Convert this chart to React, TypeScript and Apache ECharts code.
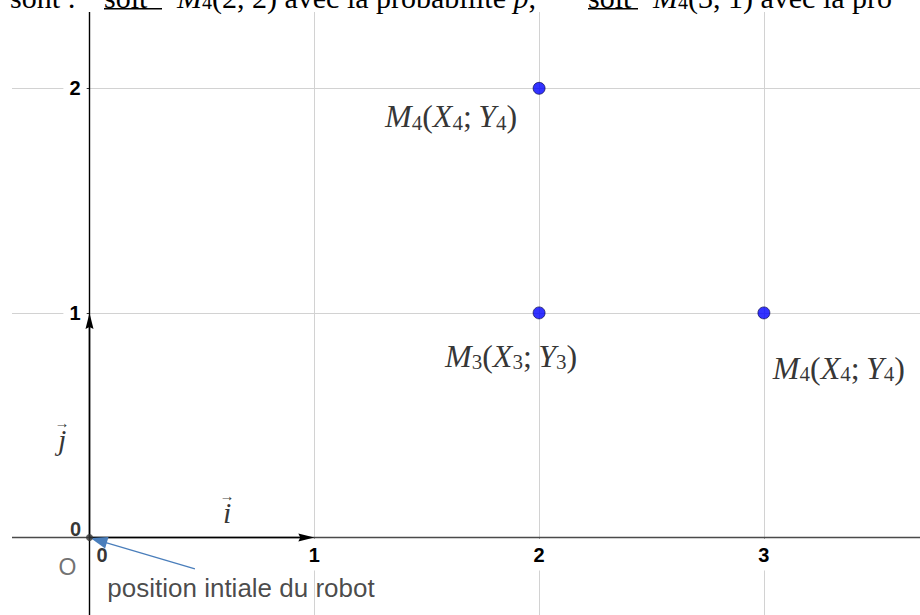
import { useEffect, useRef } from "react";
import * as echarts from "echarts";

// ---- data ----
const X_MIN = -1;
const X_MAX = 4;
const Y_MIN = -1;
const Y_MAX = 3;

const pointCoords: [number, number][] = [
  [2, 2],
  [2, 1],
  [3, 1],
];
const pointIndices = ["4", "3", "4"];

const origin: [number, number] = [0, 0];
const originName = "O";

const vectors: number[][] = [
  [0, 0, 1, 0],
  [0, 0, 0, 1],
];
const vectorNames = ["i", "j"];
const vectorLabelAnchors: [number, number][] = [
  [0.612, 0.128],
  [-0.122, 0.453],
];

const noteArrow: number[][] = [[0.469, -0.14, 0.0045, -0.0022]];
const noteText = "position intiale du robot";
const noteAnchor: [number, number] = [0.674, -0.226];

const headerPieces = [
  "sont :",
  "{u|soit}",
  "{i|M}{s|4}(2, 2) avec la probabilité {i|p},",
  "{u|soit}",
  "{i|M}{s|4}(3, 1) avec la pro",
];

// ---- styles / layout ----
const X0 = 89.5;
const Y0 = 537.5;
const UX = 224.8;
const UY = 224.6;
const GRID_LEFT = X0 + X_MIN * UX;
const GRID_TOP = Y0 - Y_MAX * UY;
const GRID_W = (X_MAX - X_MIN) * UX;
const GRID_H = (Y_MAX - Y_MIN) * UY;

const SANS = "'Liberation Sans', Arial, sans-serif";
const SERIF = "'Liberation Serif', 'Times New Roman', serif";

const pointLabelOffsets: [number, number][] = [
  [-88, 28],
  [-28, 43],
  [75, 55],
];
const headerX = [10, 104, 177, 588, 653];
const underlines: [number, number][] = [
  [104, 58],
  [588, 50],
];

function arrowRenderer(color: string, lw: number, headLen: number, headHalf: number, notch: number) {
  return (params: any, api: any) => {
    const p1 = api.coord([api.value(0), api.value(1)]);
    const p2 = api.coord([api.value(2), api.value(3)]);
    const dx = p2[0] - p1[0];
    const dy = p2[1] - p1[1];
    const len = Math.hypot(dx, dy) || 1;
    const ux = dx / len;
    const uy = dy / len;
    const nx = -uy;
    const ny = ux;
    const bx = p2[0] - ux * headLen;
    const by = p2[1] - uy * headLen;
    return {
      type: "group",
      children: [
        {
          type: "line",
          shape: { x1: p1[0], y1: p1[1], x2: bx + ux * (notch + 1), y2: by + uy * (notch + 1) },
          style: { stroke: color, lineWidth: lw },
        },
        {
          type: "polygon",
          shape: {
            points: [
              [p2[0], p2[1]],
              [bx + nx * headHalf, by + ny * headHalf],
              [bx + ux * notch, by + uy * notch],
              [bx - nx * headHalf, by - ny * headHalf],
            ],
          },
          style: { fill: color },
        },
      ],
    };
  };
}

const mathRich = {
  m: { fontFamily: SERIF, fontStyle: "italic", fontSize: 32, lineHeight: 34, color: "#000" },
  n: { fontFamily: SERIF, fontSize: 32, lineHeight: 34, color: "#000" },
  s: { fontFamily: SERIF, fontSize: 21, lineHeight: 16, verticalAlign: "bottom", color: "#000" },
};

const tickFont = {
  fontFamily: SANS,
  fontSize: 20,
  fontWeight: "bold",
  color: "#000",
};

export default function App() {
  const ref = useRef<HTMLDivElement>(null);

  useEffect(() => {
    if (!ref.current) return;
    const chart = echarts.init(ref.current, undefined, { renderer: "svg" });

    const xLabelRich = {
      b: { ...tickFont, lineHeight: 20, backgroundColor: "#fff", padding: [6, 5, 6, 5] },
    };
    const yLabelRich = {
      b: { ...tickFont, lineHeight: 20, backgroundColor: "#fff", padding: [2, 6, 2, 6] },
    };

    const graphics: any[] = [
      { type: "rect", shape: { x: 0, y: 0, width: 920, height: 12 }, style: { fill: "#fff" }, z: 100, silent: true },
      { type: "rect", shape: { x: 0, y: 0, width: 12, height: 615 }, style: { fill: "#fff" }, z: 100, silent: true },
    ];
    headerPieces.forEach((t, k) => {
      graphics.push({
        type: "text",
        z: 101,
        silent: true,
        style: {
          text: t,
          x: headerX[k],
          y: -2.6,
          align: "left",
          verticalAlign: "middle",
          fill: "#000",
          font: `30px ${SERIF}`,
          lineHeight: 30,
          rich: {
            i: { fontFamily: SERIF, fontStyle: "italic", fontSize: 30, lineHeight: 30, fill: "#000" },
            u: { fontFamily: SERIF, fontSize: 30, lineHeight: 30, fill: "#000" },
            s: { fontFamily: SERIF, fontSize: 20, lineHeight: 14, verticalAlign: "bottom", fill: "#000" },
          },
        },
      });
    });
    underlines.forEach(([x, w]) => {
      graphics.push({
        type: "rect",
        z: 101,
        silent: true,
        shape: { x, y: 8, width: w, height: 1.4 },
        style: { fill: "#000" },
      });
    });

    const option: any = {
      animation: false,
      backgroundColor: "#ffffff",
      grid: [
        {
          left: GRID_LEFT,
          top: GRID_TOP,
          width: GRID_W,
          height: GRID_H,
          containLabel: false,
          outerBoundsMode: "none",
        },
        {
          left: X0,
          top: GRID_TOP,
          width: X_MAX * UX,
          height: Y_MAX * UY,
          containLabel: false,
          outerBoundsMode: "none",
        },
      ],
      xAxis: [
        {
          type: "value",
          gridIndex: 0,
          min: X_MIN,
          max: X_MAX,
          interval: 1,
          z: 0,
          axisLine: { show: false },
          axisTick: { show: false },
          axisLabel: { show: false },
          splitLine: { show: true, lineStyle: { color: "#d2d2d2", width: 1 } },
        },
        {
          type: "value",
          gridIndex: 0,
          position: "bottom",
          min: X_MIN,
          max: X_MAX,
          interval: 1,
          z: 2,
          axisLine: { show: true, onZero: true, onZeroAxisIndex: 0, lineStyle: { color: "#4a4a4a", width: 1.3 } },
          axisTick: { show: false },
          axisLabel: { show: false },
          splitLine: { show: false },
        },
        {
          type: "value",
          gridIndex: 1,
          position: "bottom",
          min: 0,
          max: X_MAX,
          interval: 1,
          z: 1,
          axisLine: { show: false, onZero: false },
          axisTick: { show: true, length: 3, lineStyle: { color: "#4a4a4a", width: 1 } },
          axisLabel: {
            show: true,
            margin: 7,
            ...tickFont,
            formatter: (v: number) => (v === 0 ? "" : `{b|${v}}`),
            rich: xLabelRich,
          },
          splitLine: { show: false },
        },
      ],
      yAxis: [
        {
          type: "value",
          gridIndex: 0,
          min: Y_MIN,
          max: Y_MAX,
          interval: 1,
          z: 0,
          axisLine: { show: false },
          axisTick: { show: false },
          axisLabel: { show: false },
          splitLine: { show: true, lineStyle: { color: "#d2d2d2", width: 1 } },
        },
        {
          type: "value",
          gridIndex: 0,
          position: "left",
          min: Y_MIN,
          max: Y_MAX,
          interval: 1,
          z: 2,
          axisLine: { show: true, onZero: true, onZeroAxisIndex: 0, lineStyle: { color: "#000", width: 1.4 } },
          axisTick: { show: false },
          axisLabel: { show: false },
          splitLine: { show: false },
        },
        {
          type: "value",
          gridIndex: 1,
          position: "left",
          min: 0,
          max: Y_MAX,
          interval: 1,
          z: 1,
          axisLine: { show: false, onZero: false },
          axisTick: { show: true, length: 3, lineStyle: { color: "#333", width: 1 } },
          axisLabel: {
            show: true,
            margin: 3,
            ...tickFont,
            formatter: (v: number) => (v === 0 ? "" : `{b|${v}}`),
            rich: yLabelRich,
          },
          splitLine: { show: false },
        },
      ],
      series: [
        {
          type: "custom",
          name: "vectors",
          silent: true,
          z: 3,
          renderItem: arrowRenderer("#000", 1.5, 16, 4, 2),
          encode: { x: [0, 2], y: [1, 3] },
          data: vectors,
        },
        {
          type: "custom",
          name: "note-arrow",
          silent: true,
          z: 3,
          renderItem: arrowRenderer("#4a7ebb", 1.3, 17, 6, 0),
          encode: { x: [0, 2], y: [1, 3] },
          data: noteArrow,
        },
        {
          type: "scatter",
          name: "origin",
          silent: true,
          z: 4,
          symbolSize: 7,
          itemStyle: { color: "#333" },
          emphasis: { disabled: true },
          label: {
            show: true,
            position: "inside",
            offset: [-22, 29.5],
            formatter: originName,
            fontFamily: SANS,
            fontSize: 23,
            color: "#4d4d4d",
          },
          data: [origin],
        },
        {
          type: "scatter",
          name: "origin-ticks",
          silent: true,
          z: 4,
          symbolSize: 1,
          itemStyle: { color: "transparent" },
          emphasis: { disabled: true },
          data: [
            { value: origin, label: { offset: [12.5, 17.5] } },
            { value: origin, label: { offset: [-14, -8.5] } },
          ],
          label: {
            show: true,
            position: "inside",
            formatter: () => String(origin[0]),
            ...tickFont,
          },
        },
        {
          type: "scatter",
          name: "points",
          silent: true,
          z: 5,
          symbolSize: 12,
          itemStyle: { color: "#0000ff", borderColor: "#000040", borderWidth: 0.8 },
          emphasis: { disabled: true },
          data: pointCoords.map((c, k) => ({
            value: c,
            label: { offset: pointLabelOffsets[k] },
          })),
          label: {
            show: true,
            position: "inside",
            color: "#000",
            formatter: (p: any) => {
              const s = pointIndices[p.dataIndex];
              return `{m|M}{s|${s}}{n|(}{m|X}{s|${s}}{n|;\u2009}{m|Y}{s|${s}}{n|)}`;
            },
            rich: mathRich,
          },
        },
        {
          type: "scatter",
          name: "vector-labels",
          silent: true,
          z: 4,
          symbolSize: 1,
          itemStyle: { color: "transparent" },
          emphasis: { disabled: true },
          data: vectorLabelAnchors,
          label: {
            show: true,
            position: "inside",
            color: "#000",
            formatter: (p: any) => `{a|\u2192}\n{v|${vectorNames[p.dataIndex]}}`,
            rich: {
              a: { fontFamily: SERIF, fontSize: 15, lineHeight: 8, color: "#000", align: "center" },
              v: { fontFamily: SERIF, fontStyle: "italic", fontSize: 30, lineHeight: 26, color: "#000", align: "center" },
            },
          },
        },
        {
          type: "scatter",
          name: "note",
          silent: true,
          z: 4,
          symbolSize: 1,
          itemStyle: { color: "transparent" },
          emphasis: { disabled: true },
          data: [noteAnchor],
          label: {
            show: true,
            position: "inside",
            formatter: noteText,
            fontFamily: SANS,
            fontSize: 26,
            color: "#1a1a1a",
          },
        },
      ],
      graphic: graphics,
    };

    chart.setOption(option);
    return () => chart.dispose();
  }, []);

  return (
    <div
      ref={ref}
      style={{ position: "fixed", left: 0, top: 0, width: 920, height: 615, background: "#fff" }}
    />
  );
}
